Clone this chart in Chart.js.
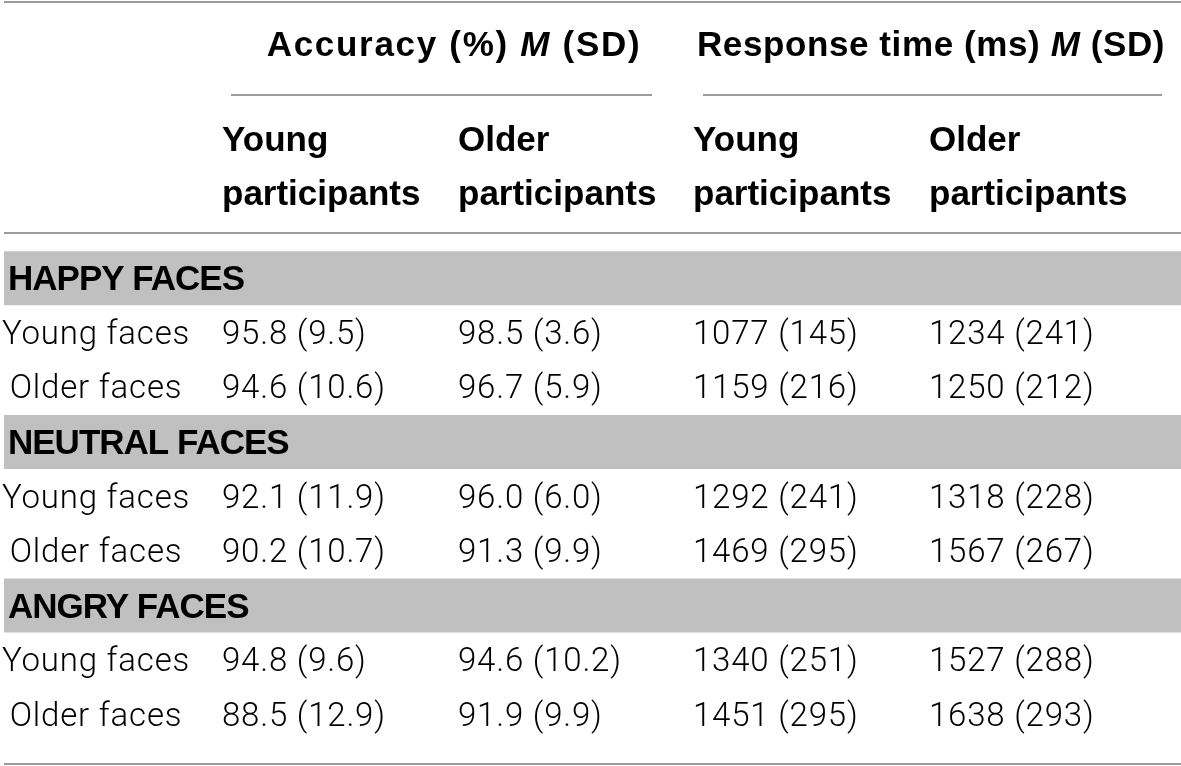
<!DOCTYPE html>
<html>
<head>
<meta charset="utf-8">
<script src="https://cdn.jsdelivr.net/npm/chart.js@4"></script>
<style>
  html, body { margin: 0; padding: 0; background: #fff; }
  #wrap { width: 1181px; height: 766px; position: relative; }
</style>
</head>
<body>
<div id="wrap"><canvas id="table"></canvas></div>
<script>
// table content
const groups = ['HAPPY FACES', 'NEUTRAL FACES', 'ANGRY FACES'];
const faces = ['Young faces', 'Older faces'];
const participants = ['Young participants', 'Older participants'];

const accYoungM  = [95.8, 94.6, 92.1, 90.2, 94.8, 88.5];
const accYoungSD = [9.5, 10.6, 11.9, 10.7, 9.6, 12.9];
const accOlderM  = [98.5, 96.7, 96.0, 91.3, 94.6, 91.9];
const accOlderSD = [3.6, 5.9, 6.0, 9.9, 10.2, 9.9];
const rtYoungM   = [1077, 1159, 1292, 1469, 1340, 1451];
const rtYoungSD  = [145, 216, 241, 295, 251, 295];
const rtOlderM   = [1234, 1250, 1318, 1567, 1527, 1638];
const rtOlderSD  = [241, 212, 228, 267, 288, 293];

// layout
const W = 1181;
const colX = [96, 222, 458, 693, 929];
const lineColor = '#9b9b9b';
const bandColor = '#c0c0c0';
const boldFont = 'bold 35px "Liberation Sans", Arial, sans-serif';
const boldItalic = 'italic bold 35px "Liberation Sans", Arial, sans-serif';
const bodyFont = '300 33px Roboto, "Liberation Sans", sans-serif';

// rows: group band, then one row per face type
const rowLabels = [];
const bandSpans = [];
const cells = [];
groups.forEach((g, gi) => {
    rowLabels.push(g);
    bandSpans.push([4, W]);
    cells.push(null);
    faces.forEach((f, fi) => {
        const i = gi * faces.length + fi;
        rowLabels.push(f);
        bandSpans.push(null);
        cells.push([
            accYoungM[i].toFixed(1) + ' (' + accYoungSD[i].toFixed(1) + ')',
            accOlderM[i].toFixed(1) + ' (' + accOlderSD[i].toFixed(1) + ')',
            rtYoungM[i] + ' (' + rtYoungSD[i] + ')',
            rtOlderM[i] + ' (' + rtOlderSD[i] + ')'
        ]);
    });
});

function hline(ctx, x0, x1, y) {
    ctx.beginPath();
    ctx.moveTo(x0, y);
    ctx.lineTo(x1, y);
    ctx.stroke();
}

// "Title M (SD)" with italic M, centred on cx
function spanTitle(ctx, parts, cx, y) {
    let total = 0;
    parts.forEach(p => { ctx.font = p[1] ? boldItalic : boldFont; total += ctx.measureText(p[0]).width; });
    let x = cx - total / 2;
    parts.forEach(p => {
        ctx.font = p[1] ? boldItalic : boldFont;
        ctx.fillText(p[0], x, y);
        x += ctx.measureText(p[0]).width;
    });
}

const tableText = {
    id: 'tableText',
    afterDatasetsDraw(chart) {
        const {ctx, scales: {x, y}} = chart;
        const px = v => x.getPixelForValue(v);
        ctx.save();
        ctx.fillStyle = '#000';
        ctx.textBaseline = 'alphabetic';

        // rules
        ctx.strokeStyle = lineColor;
        ctx.lineWidth = 2;
        hline(ctx, px(4), px(W), 2);
        hline(ctx, px(231), px(652), 95);
        hline(ctx, px(703), px(1162), 95);
        hline(ctx, px(4), px(W), 233);
        hline(ctx, px(4), px(W), 764);

        // spanning headers
        ctx.textAlign = 'left';
        ctx.letterSpacing = '1.7px';
        spanTitle(ctx, [['Accuracy (%) ', false], ['M', true], [' (SD)', false]], px(454), 56);
        ctx.letterSpacing = '0.6px';
        spanTitle(ctx, [['Response time (ms) ', false], ['M', true], [' (SD)', false]], px(931), 56);

        // column headers
        ctx.letterSpacing = '0px';
        ctx.font = boldFont;
        for (let c = 0; c < 4; c++) {
            const words = participants[c % 2].split(' ');
            ctx.fillText(words[0], px(colX[c + 1]), 151);
            ctx.fillText(words[1], px(colX[c + 1]), 205);
        }

        // body rows
        rowLabels.forEach((label, r) => {
            const cy = y.getPixelForValue(r);
            if (cells[r] === null) {
                ctx.font = boldFont;
                ctx.letterSpacing = '-1px';
                ctx.textAlign = 'left';
                ctx.fillText(label, px(8), cy + 12);
                return;
            }
            ctx.font = bodyFont;
            ctx.letterSpacing = '0.8px';
            ctx.textAlign = 'center';
            ctx.fillText(label, px(colX[0]), cy + 11);
            ctx.textAlign = 'left';
            cells[r].forEach((t, c) => ctx.fillText(t, px(colX[c + 1]), cy + 11));
        });
        ctx.restore();
    }
};

new Chart(document.getElementById('table'), {
    type: 'bar',
    data: {
        labels: rowLabels,
        datasets: [{
            data: bandSpans,
            backgroundColor: bandColor,
            borderWidth: 0,
            barPercentage: 1,
            categoryPercentage: 0.99
        }]
    },
    options: {
        indexAxis: 'y',
        responsive: true,
        maintainAspectRatio: false,
        animation: false,
        layout: {padding: {top: 251, bottom: 24, left: 0, right: 0}},
        scales: {
            x: {type: 'linear', min: 0, max: W, display: false},
            y: {display: false}
        },
        plugins: {
            legend: {display: false},
            tooltip: {enabled: false}
        }
    },
    plugins: [tableText]
});
</script>
</body>
</html>
